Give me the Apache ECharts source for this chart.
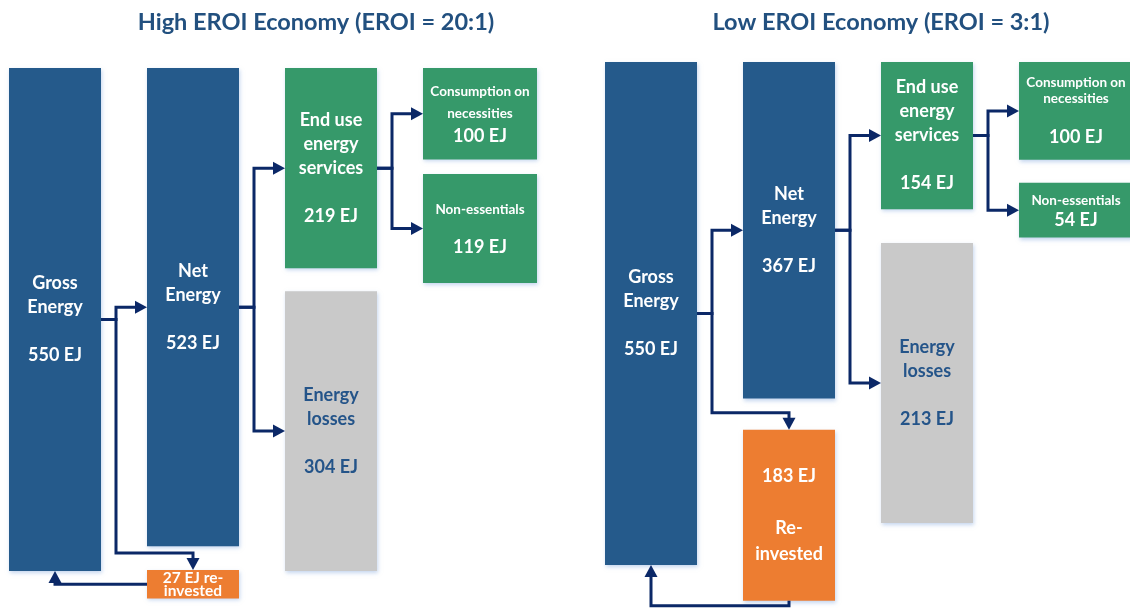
<!DOCTYPE html>
<html><head><meta charset="utf-8">
<script src="https://cdn.jsdelivr.net/npm/echarts@6/dist/echarts.min.js"></script>
<style>html,body{margin:0;padding:0;background:#fff}#c{width:1130px;height:608px}</style>
</head><body><div id="c"></div>
<script>
// ================= DATA =================
const titles = ['High EROI Economy (EROI = 20:1)', 'Low EROI Economy (EROI = 3:1)'];
const boxNames = ['gross', 'net', 'enduse', 'cons', 'nonEss', 'losses', 'reinvest'];
const boxKinds = ['blue', 'blue', 'green', 'green', 'green', 'gray', 'orange'];
const boxCols  = [0, 1, 2, 3, 3, 2, 1];
// values (EJ) as written in the boxes
const highValues = [550, 523, 219, 100, 119, 304, 27];
const lowValues  = [550, 367, 154, 100, 54, 213, 183];
// vertical extent of each box as drawn, in EJ on the drawing scale
const highTops  = [0, 0, 0, 0, 116, 244, 549];
const highSpans = [550, 523, 219, 100, 119, 306, 31];
const lowTops   = [0, 0, 0, 0, 132, 198, 402];
const lowSpans  = [550, 368, 161, 107, 60, 306, 187];
// box label lines ({v} = value)
const highLabels = [
  ['Gross', 'Energy', '', '{v} EJ'],
  ['Net', 'Energy', '', '{v} EJ'],
  ['End use', 'energy', 'services', '', '{v} EJ'],
  ['Consumption on', 'necessities', '{v} EJ'],
  ['Non-essentials', '', '{v} EJ'],
  ['Energy', 'losses', '', '{v} EJ'],
  ['{v} EJ re-', 'invested']
];
const lowLabels = [
  ['Gross', 'Energy', '', '{v} EJ'],
  ['Net', 'Energy', '', '{v} EJ'],
  ['End use', 'energy', 'services', '', '{v} EJ'],
  ['Consumption on', 'necessities', '', '{v} EJ'],
  ['Non-essentials', '{v} EJ'],
  ['Energy', 'losses', '', '{v} EJ'],
  ['{v} EJ', '', 'Re-', 'invested']
];
// energy flows between boxes: [from, to, route]
const flows = [
  ['gross', 'net', 'right'],
  ['gross', 'reinvest', 'down'],
  ['reinvest', 'gross', 'back'],
  ['net', 'enduse', 'right'],
  ['net', 'losses', 'right'],
  ['enduse', 'cons', 'right'],
  ['enduse', 'nonEss', 'right']
];

// ================= STYLE / LAYOUT =================
const FONT = 'Lato, "Open Sans", sans-serif';
const kindFill = { blue: '#255A8B', green: '#36996A', gray: '#C9C9C9', orange: '#ED7D31' };
const kindText = { blue: '#ffffff', green: '#ffffff', gray: '#245489', orange: '#ffffff' };
const ARROW = '#0B2867';
const PX_PER_EJ = 503 / 550;
const Y_MAX = 590;
const COL_PITCH = 138;
const boxWidthPx = [92, 92, 92, 114, 114, 92, 92];
const BIG = 18, SMALL = 13.5;
const highLabelStyle = [
  { fs: BIG, lh: 24 }, { fs: BIG, lh: 24 }, { fs: BIG, lh: 24 },
  { fs: [SMALL, SMALL, BIG], lh: [22, 22, 23] },
  { fs: [SMALL, 0, BIG], lh: [18.5, 18.5, 18.5] },
  { fs: BIG, lh: 24 },
  { fs: 15.5, lh: 13 }
];
const lowLabelStyle = [
  { fs: BIG, lh: 24 }, { fs: BIG, lh: 24 }, { fs: BIG, lh: 24 },
  { fs: [SMALL, SMALL, 0, BIG], lh: [16, 16, 20, 20] },
  { fs: [SMALL, BIG], lh: [20, 20] },
  { fs: BIG, lh: 24 },
  { fs: BIG, lh: 26 }
];
const panels = [
  { left: 9, top: 68, xMax: 4, titleX: 316, back: 'side', values: highValues, tops: highTops, spans: highSpans, labels: highLabels, lstyle: highLabelStyle },
  { left: 605, top: 62, xMax: 3.8, titleX: 881, back: 'bottom', values: lowValues, tops: lowTops, spans: lowSpans, labels: lowLabels, lstyle: lowLabelStyle }
];

// ================= BUILD =================
function boxRect(api, p, i) {
  const a = api.coord([boxCols[i], p.tops[i]]);
  const b = api.coord([boxCols[i], p.tops[i] + p.spans[i]]);
  const x0 = a[0], y0 = Math.min(a[1], b[1]), y1 = Math.max(a[1], b[1]);
  const x1 = x0 + boxWidthPx[i];
  return { x0, x1, y0, y1, cx: (x0 + x1) / 2, cy: (y0 + y1) / 2 };
}

function arr(v, n) { return Array.isArray(v) ? v : new Array(n).fill(v); }

function makeBoxRender(p) {
  return function (params, api) {
    const i = api.value(2);
    const r = boxRect(api, p, i);
    const kind = boxKinds[i];
    const children = [{
      type: 'rect',
      shape: { x: r.x0, y: r.y0, width: r.x1 - r.x0, height: r.y1 - r.y0 },
      style: { fill: kindFill[kind], shadowColor: 'rgba(150,180,225,0.55)', shadowBlur: 4, shadowOffsetX: 1, shadowOffsetY: 2 }
    }];
    const lines = p.labels[i].map(s => s.replace('{v}', p.values[i]));
    const st = p.lstyle[i];
    const fs = arr(st.fs, lines.length), lh = arr(st.lh, lines.length);
    const total = lh.reduce((s, v) => s + v, 0);
    let y = r.cy - total / 2;
    lines.forEach((t, k) => {
      const yc = y + lh[k] / 2;
      y += lh[k];
      if (!t) return;
      children.push({
        type: 'text', x: r.cx, y: yc,
        style: { text: t, fill: kindText[kind], fontFamily: FONT, fontWeight: 'bold', fontSize: fs[k], align: 'center', verticalAlign: 'middle' }
      });
    });
    return { type: 'group', children };
  };
}

function arrowShape(pts) {
  const L = 12, W = 6.5;
  const n = pts.length;
  const [ex, ey] = pts[n - 1], [px, py] = pts[n - 2];
  const dx = ex - px, dy = ey - py, len = Math.hypot(dx, dy) || 1;
  const ux = dx / len, uy = dy / len;
  const bx = ex - ux * L, by = ey - uy * L;
  const linePts = pts.slice(0, n - 1).concat([[bx + ux * 1, by + uy * 1]]);
  return [
    { type: 'polyline', shape: { points: linePts }, style: { stroke: ARROW, lineWidth: 3, fill: null, lineJoin: 'miter' } },
    { type: 'polygon', shape: { points: [[ex, ey], [bx - uy * W, by + ux * W], [bx + uy * W, by - ux * W]] }, style: { fill: ARROW } }
  ];
}

function makeFlowRender(p) {
  return function (params, api) {
    const f = flows[api.value(2)];
    const s = boxRect(api, p, boxNames.indexOf(f[0]));
    const t = boxRect(api, p, boxNames.indexOf(f[1]));
    let pts;
    if (f[2] === 'right') {
      const bx = s.x1 + 15;
      pts = [[s.x1, s.cy], [bx, s.cy], [bx, t.cy], [t.x0, t.cy]];
    } else if (f[2] === 'down') {
      const bx = s.x1 + 15, hy = t.y0 - 17;
      pts = [[s.x1, s.cy], [bx, s.cy], [bx, hy], [t.cx, hy], [t.cx, t.y0]];
    } else if (p.back === 'side') {
      pts = [[s.x0, s.cy], [t.cx, s.cy], [t.cx, t.y1]];
    } else {
      const hy = s.y1 + 5;
      pts = [[s.cx, s.y1], [s.cx, hy], [t.cx, hy], [t.cx, t.y1]];
    }
    return { type: 'group', children: arrowShape(pts) };
  };
}

const grids = [], xAxes = [], yAxes = [], series = [];
panels.forEach((p, k) => {
  grids.push({ left: p.left, top: p.top, width: p.xMax * COL_PITCH, height: Y_MAX * PX_PER_EJ });
  xAxes.push({ type: 'value', gridIndex: k, min: 0, max: p.xMax, show: false });
  yAxes.push({ type: 'value', gridIndex: k, min: 0, max: Y_MAX, inverse: true, show: false });
  series.push({
    type: 'custom', xAxisIndex: k, yAxisIndex: k, silent: true, clip: false, z: 2,
    data: boxNames.map((n, i) => [boxCols[i], p.tops[i], i]),
    renderItem: makeBoxRender(p)
  });
  series.push({
    type: 'custom', xAxisIndex: k, yAxisIndex: k, silent: true, clip: false, z: 3,
    data: flows.map((f, i) => [0, 0, i]),
    renderItem: makeFlowRender(p)
  });
});

const chart = echarts.init(document.getElementById('c'), null, { renderer: 'canvas' });
chart.setOption({
  animation: false,
  backgroundColor: '#ffffff',
  grid: grids, xAxis: xAxes, yAxis: yAxes, series,
  graphic: panels.map((p, k) => ({
    type: 'text', x: p.titleX, y: 22,
    style: { text: titles[k], fill: '#22507F', fontFamily: FONT, fontWeight: 'bold', fontSize: 23.5, align: 'center', verticalAlign: 'middle' }
  }))
});
</script></body></html>
